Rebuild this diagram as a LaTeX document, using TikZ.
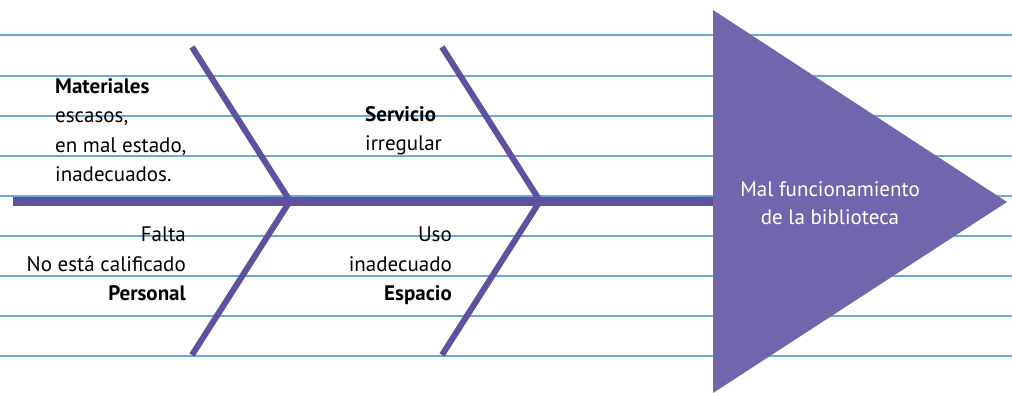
\documentclass[tikz,border=0pt]{standalone}
\usepackage{fontspec}
\setmainfont{PT Sans}
\usetikzlibrary{positioning}
\definecolor{boneViolet}{RGB}{94,82,160}
\definecolor{headViolet}{RGB}{112,102,174}
\definecolor{ruleBlue}{RGB}{108,170,214}

\begin{document}
\begin{tikzpicture}[x=1pt,y=-1pt,
    rule/.style={draw=ruleBlue, line width=1.4pt},
    bone/.style={draw=boneViolet, line width=6pt},
    spine/.style={draw=boneViolet, line width=9pt},
    cause/.style={inner sep=0pt, font=\fontsize{21}{29.5}\selectfont},
    effect/.style={inner sep=0pt, align=center, text=white,
      font=\fontsize{21}{28}\selectfont}
  ]
  \useasboundingbox (0,0) rectangle (1012,393);
  % ruled sheet
  \foreach \y in {35,76,116,156,196,236,276,316,356}
    \draw[rule] (0,\y) -- (1012,\y);

  % head and spine
  \coordinate (tail) at (13,201);
  \coordinate (headL) at (713,201);
  \coordinate (headT) at (713,10);
  \coordinate (headB) at (713,393);
  \coordinate (headR) at (1007,202);
  \fill[headViolet] (headT) -- (headR) -- (headB) -- cycle;
  \draw[spine] (tail) -- (headL);

  % bones
  \coordinate (j1) at (290,201);
  \coordinate (j2) at (540,201);
  \coordinate (m1) at (192,47);
  \coordinate (p1) at (192,355);
  \coordinate (s1) at (442,47);
  \coordinate (e1) at (442,355);
  \draw[bone, line join=miter] (m1) -- (j1) -- (p1);
  \draw[bone, line join=miter] (s1) -- (j2) -- (e1);

  % causes
  \node[cause, anchor=north west, align=left] (materiales) at (55,78)
    {\textbf{Materiales}\\escasos,\\en mal estado,\\inadecuados.};
  \node[cause, anchor=north west, align=left] (servicio) at (365,106)
    {\textbf{Servicio}\\irregular};
  \node[cause, anchor=north east, align=right] (personal) at (186,227)
    {Falta\\No está calificado\\\textbf{Personal}};
  \node[cause, anchor=north east, align=right] (espacio) at (452,227)
    {Uso\\inadecuado\\\textbf{Espacio}};

  % effect
  \node[effect, anchor=north] (problema) at (830,181)
    {Mal funcionamiento\\de la biblioteca};
\end{tikzpicture}
\end{document}
